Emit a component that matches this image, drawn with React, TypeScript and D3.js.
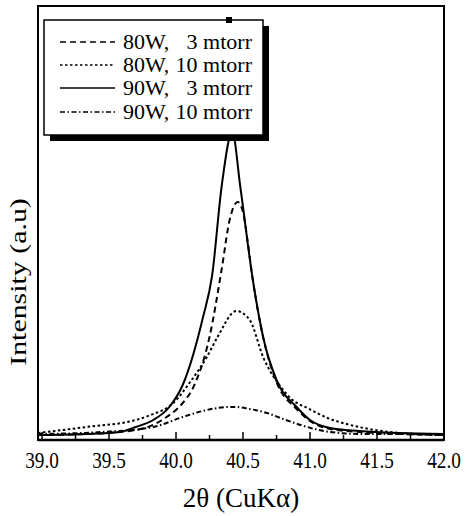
import React from "react";
import * as d3 from "d3";

// 2θ (deg) vs intensity (a.u.)
const s80W3: [number, number][] = [
  [38.97, 5], [39.33, 6], [39.7, 10], [39.93, 23], [40.05, 37], [40.13, 53], [40.25, 103],
  [40.34, 170], [40.4, 220], [40.46, 238], [40.5, 228], [40.53, 203], [40.57, 163],
  [40.65, 103], [40.75, 58], [40.9, 31], [41.0, 19], [41.15, 11], [41.37, 8], [41.67, 6], [42.0, 5],
];
const s80W10: [number, number][] = [
  [38.97, 7], [39.33, 13], [39.7, 20], [39.81, 25], [39.98, 37], [40.1, 57], [40.23, 83],
  [40.31, 103], [40.45, 129], [40.55, 120], [40.65, 83], [40.8, 50], [40.87, 40], [40.98, 32],
  [41.15, 21], [41.22, 18], [41.4, 12], [41.6, 8], [42.0, 5],
];
const s90W3: [number, number][] = [
  [38.97, 5], [39.33, 6], [39.58, 8], [39.7, 13], [39.83, 20], [39.95, 33], [40.05, 55],
  [40.2, 122], [40.27, 165], [40.34, 253], [40.42, 308], [40.48, 253], [40.57, 163],
  [40.65, 103], [40.75, 60], [40.9, 33], [41.0, 20], [41.15, 12], [41.37, 9], [41.67, 7], [42.0, 6],
];
const s90W10: [number, number][] = [
  [38.97, 6], [39.45, 8], [39.83, 13], [40.05, 23], [40.2, 29], [40.31, 32], [40.4, 33],
  [40.45, 33], [40.55, 31], [40.68, 27], [40.8, 21], [40.93, 15], [41.15, 8], [41.4, 6],
  [41.67, 6], [42.0, 5],
];

const majorTicks = [39.0, 39.5, 40.0, 40.5, 41.0, 41.5, 42.0];
const minorTicks = [39.25, 39.75, 40.25, 40.75, 41.25, 41.75];

const legendPower = ["80W,", "80W,", "90W,", "90W,"];
const legendPressure = ["3 mtorr", "10 mtorr", "3 mtorr", "10 mtorr"];

const W = 466, H = 516;
const L = 38, R = 444, T = 6, B = 440;

export default function App() {
  const x = d3.scaleLinear().domain([38.97, 42.0]).range([L, R]);
  const y = d3.scaleLinear().domain([0, 434]).range([B, T]);
  const line = d3
    .line<[number, number]>()
    .x((d) => x(d[0]))
    .y((d) => y(d[1]))
    .curve(d3.curveMonotoneX);

  const series = [
    { data: s80W3, dash: "6,4" },
    { data: s80W10, dash: "2.5,2.5" },
    { data: s90W3, dash: "" },
    { data: s90W10, dash: "5,2.5,1.5,2.5" },
  ];

  const font = "'Liberation Serif', 'DejaVu Serif', serif";
  const rows = [42, 65, 88, 112];

  return (
    <svg
      width={W}
      height={H}
      style={{ position: "absolute", left: 0, top: 0, background: "#fff" }}
      fontFamily={font}
    >
      <rect x={0} y={0} width={W} height={H} fill="#fff" />
      <defs>
        <clipPath id="plot">
          <rect x={L} y={T} width={R - L} height={B - T} />
        </clipPath>
      </defs>
      <g clipPath="url(#plot)">
        {series.map((s, i) => (
          <path
            key={i}
            d={line(s.data) || ""}
            fill="none"
            stroke="#000"
            strokeWidth={2}
            strokeDasharray={s.dash}
          />
        ))}
      </g>
      {/* frame */}
      <rect x={L} y={T} width={R - L} height={B - T} fill="none" stroke="#000" strokeWidth={2} />
      <line x1={L} x2={R} y1={B} y2={B} stroke="#000" strokeWidth={2.5} />
      {majorTicks.map((t) => (
        <line key={"M" + t} x1={x(t)} x2={x(t)} y1={B} y2={B - 8} stroke="#000" strokeWidth={1.5} />
      ))}
      {minorTicks.map((t) => (
        <line key={"m" + t} x1={x(t)} x2={x(t)} y1={B} y2={B - 5} stroke="#000" strokeWidth={1.5} />
      ))}
      {majorTicks.map((t) => (
        <g key={"l" + t} transform={`translate(${x(t)},468) scale(0.8,1)`}>
          <text x={0} y={0} textAnchor="middle" fontSize={24} fill="#000">
            {d3.format(".1f")(t)}
          </text>
        </g>
      ))}
      <text x={241} y={507} textAnchor="middle" fontSize={27} fill="#000">
        2θ (CuKα)
      </text>
      <g transform="translate(26,282) rotate(-90) scale(1.3,1)">
        <text x={0} y={0} textAnchor="middle" fontSize={23} fill="#000">
          Intensity (a.u)
        </text>
      </g>
      {/* legend */}
      <rect x={50} y={26} width={219} height={115} fill="#000" />
      <rect x={44} y={20} width={219} height={115} fill="#fff" stroke="#000" strokeWidth={1.5} />
      <rect x={226} y={17} width={6} height={6} fill="#000" />
      {series.map((s, i) => (
        <g key={"lg" + i}>
          <line
            x1={60}
            x2={115}
            y1={rows[i]}
            y2={rows[i]}
            stroke="#000"
            strokeWidth={1.5}
            strokeDasharray={s.dash}
          />
          <text x={123} y={rows[i] + 7} fontSize={22} fill="#000">
            {legendPower[i]}
          </text>
          <text x={252} y={rows[i] + 7} fontSize={22} textAnchor="end" fill="#000">
            {legendPressure[i]}
          </text>
        </g>
      ))}
    </svg>
  );
}
